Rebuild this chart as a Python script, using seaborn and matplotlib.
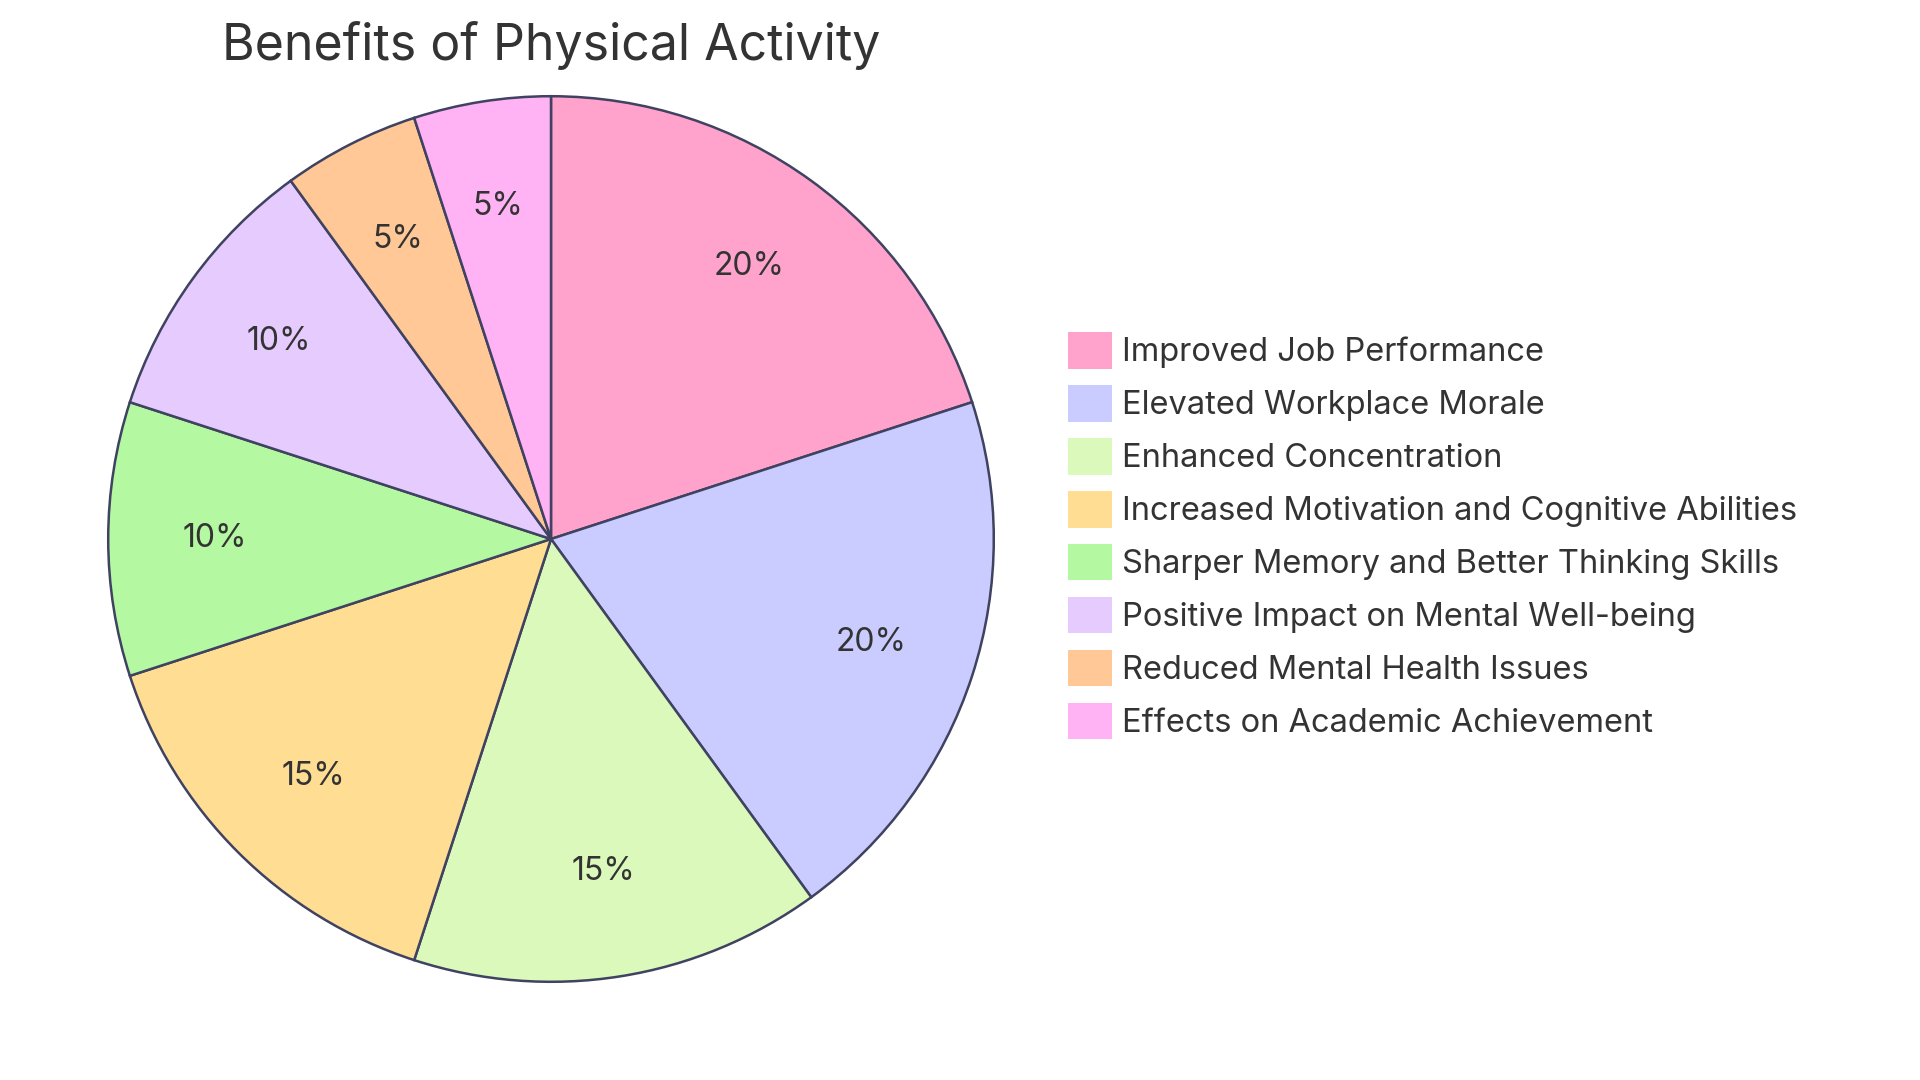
import matplotlib
matplotlib.use("Agg")

import matplotlib.pyplot as plt
import seaborn as sns

categories = [
    "Improved Job Performance",
    "Elevated Workplace Morale",
    "Enhanced Concentration",
    "Increased Motivation and Cognitive Abilities",
    "Sharper Memory and Better Thinking Skills",
    "Positive Impact on Mental Well-being",
    "Reduced Mental Health Issues",
    "Effects on Academic Achievement",
]
shares = [20, 20, 15, 15, 10, 10, 5, 5]
colors = ["#FFA3CC", "#CACBFF", "#DCF9BC", "#FFDE94",
          "#B4F9A2", "#E6CBFF", "#FFC896", "#FFB3F5"]

sns.set_theme(style="white")
plt.rcParams["font.family"] = ["Inter", "DejaVu Sans"]

TEXT = "#333333"
EDGE = "#3F4260"

fig = plt.figure(figsize=(19.2, 10.8), dpi=100)
# pie centre at (551, 539) px, radius 445 px
ax = fig.add_axes([(551 - 445) / 1920, (1080 - 539 - 445) / 1080,
                   890 / 1920, 890 / 1080])

wedges, texts = ax.pie(
    shares,
    colors=colors,
    startangle=90,
    counterclock=False,
    labels=[f"{v}%" for v in shares],
    labeldistance=0.76,
    wedgeprops=dict(edgecolor=EDGE, linewidth=1.8),
    textprops=dict(color=TEXT, fontsize=23),
)
for t in texts:
    t.set_ha("center")
    t.set_va("center")
ax.set_xlim(-1.005, 1.005)
ax.set_ylim(-1.005, 1.005)
ax.set_aspect("equal")
ax.axis("off")

fig.text(551 / 1920, 1 - 45 / 1080, "Benefits of Physical Activity",
         ha="center", va="center", fontsize=36, color=TEXT)

leg = fig.legend(
    wedges, categories,
    loc="upper left",
    bbox_to_anchor=(1068 / 1920, 1 - 332 / 1080),
    frameon=False,
    fontsize=23.5,
    handlelength=1.35,
    handleheight=1.35,
    handletextpad=0.3,
    labelspacing=0.5,
    borderpad=0,
    borderaxespad=0,
)
for h in leg.legend_handles:
    h.set_edgecolor("white")
    h.set_linewidth(0)
for t in leg.get_texts():
    t.set_color(TEXT)

plt.savefig("out.png", dpi=100)
plt.close()
